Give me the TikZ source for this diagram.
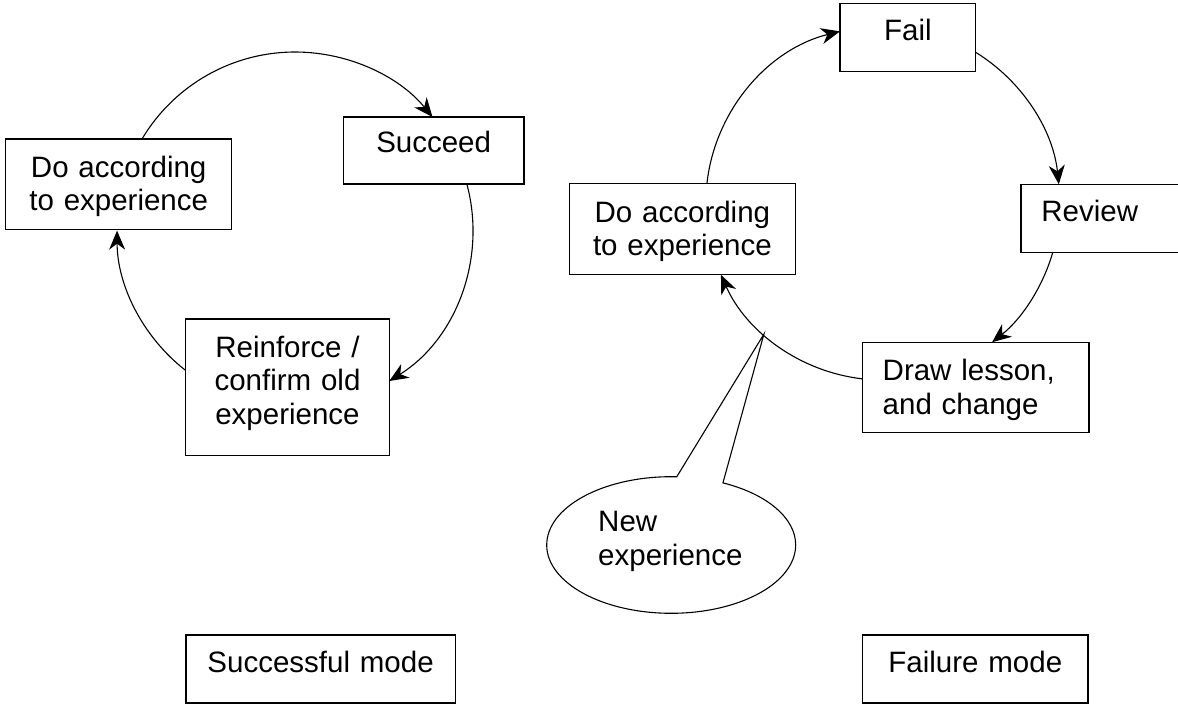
\documentclass[tikz,border=0pt]{standalone}
\usepackage{fontspec}
\setmainfont{Liberation Sans}
\usetikzlibrary{arrows.meta,shapes.callouts}
\newcommand{\dfont}{\fontsize{29.5}{33.3}\selectfont}
\begin{document}
\begin{tikzpicture}[x=1pt,y=1pt,
  box/.style={draw, line width=1.3pt, inner ysep=0pt, inner xsep=0pt, outer sep=0pt, anchor=north west, font=\dfont},
  arr/.style={line width=1.1pt, -{Stealth[length=19pt,width=16pt,inset=6pt]}}]
\useasboundingbox (0,0) rectangle (1178,705);
\clip (0,0) rectangle (1178,705);
\coordinate (cl) at (295,475);
\coordinate (cr) at (882.8,502);

% successful mode
\node[box, text width=226pt, align=center, text height=38.3pt, text depth=52pt] (do1) at (5.7,566) {Do according\\to experience};
\node[box, text width=180.7pt, align=center, text height=36pt, text depth=31pt] (succ) at (343.3,588) {Succeed};
\node[box, text width=203.6pt, align=center, text height=38.7pt, text depth=98pt] (reinf) at (185.7,386) {Reinforce /\\confirm old\\experience};
\node[box, text width=269.2pt, align=center, text height=37.7pt, text depth=30.3pt] (smode) at (186,70) {Successful mode};

% failure mode
\node[box, text width=226.2pt, align=center, text height=39pt, text depth=52pt] (do2) at (569.3,521.3) {Do according\\to experience};
\node[box, text width=135.9pt, align=center, text height=37.4pt, text depth=31pt] (fail) at (839.9,701.7) {Fail};
\node[box, inner xsep=20.5pt, text width=180pt, align=left, text height=37.4pt, text depth=30.6pt] (review) at (1020.9,520.7) {Review};
\node[box, inner xsep=20pt, text width=186.2pt, align=left, text height=38.7pt, text depth=51.7pt] (lesson) at (862.7,362.7) {Draw lesson,\\and change};
\node[box, text width=225.2pt, align=center, text height=37.7pt, text depth=30.3pt] (fmode) at (862.7,70) {Failure mode};

% arcs, left loop
\draw[arr] ([xshift=23.3pt]do1.north) arc[start angle=149.25, end angle=39.4, radius=178pt];
\draw[arr] ([xshift=33.2pt]succ.south) arc[start angle=15, end angle=-58, radius=178pt];
\draw[arr] ([yshift=16.85pt]reinf.west) arc[start angle=232.1, end angle=180.2, radius=178pt];

% arcs, right loop
\draw[arr] ([xshift=24.5pt]do2.north) arc[start angle=173.7, end angle=104, radius=177pt];
\draw[arr] ([yshift=-14.9pt]fail.east) arc[start angle=58.3, end angle=6.07, radius=177pt];
\draw[arr] ([xshift=31.9pt]review.south west) arc[start angle=-16.2, end angle=-51.9, radius=177pt];
\draw[arr] ([yshift=8.6pt]lesson.west) arc[start angle=263.5, end angle=203.9, radius=177pt];

% callout
\coordinate (ptr) at ([shift={(227.8:177)}]cr);
\node[ellipse callout, draw, line width=1.1pt, font=\dfont, minimum width=249pt, minimum height=136.6pt, inner sep=0pt, text width=146pt, align=left, text height=22pt, text depth=48.6pt, callout absolute pointer={(ptr)}, callout pointer arc=22] (newexp) at (671.2,160) {New\\experience};
\end{tikzpicture}
\end{document}
